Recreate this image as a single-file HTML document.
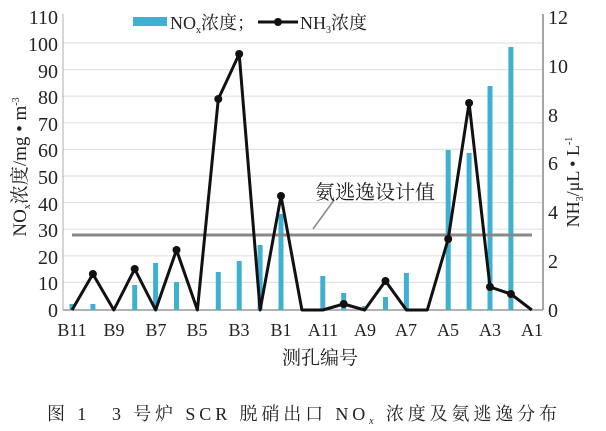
<!DOCTYPE html>
<html><head><meta charset="utf-8"><style>
html,body{margin:0;padding:0;background:#fff;}
svg{display:block;}
text{font-family:"Liberation Serif","Noto Serif CJK SC",serif;fill:#222;}
</style></head><body>
<svg width="606" height="431" viewBox="0 0 606 431" xmlns="http://www.w3.org/2000/svg">
<rect width="606" height="431" fill="#fff"/>
<g stroke="#e2e2e2" stroke-width="1.2">
<line x1="63" x2="543" y1="282.4" y2="282.4"/><line x1="63" x2="543" y1="255.8" y2="255.8"/>
<line x1="63" x2="543" y1="229.2" y2="229.2"/><line x1="63" x2="543" y1="202.6" y2="202.6"/>
<line x1="63" x2="543" y1="176" y2="176"/><line x1="63" x2="543" y1="149.4" y2="149.4"/>
<line x1="63" x2="543" y1="122.8" y2="122.8"/><line x1="63" x2="543" y1="96.2" y2="96.2"/>
<line x1="63" x2="543" y1="69.6" y2="69.6"/><line x1="63" x2="543" y1="43" y2="43"/>
</g>
<line x1="63" y1="14" x2="63" y2="310" stroke="#bbb" stroke-width="1.2"/>
<line x1="543" y1="14" x2="543" y2="310" stroke="#888" stroke-width="1.5"/>
<line x1="63" y1="310" x2="543" y2="310" stroke="#999" stroke-width="1.5"/>
<g fill="#3fb0d2">
<rect x="69.5" y="304" width="5" height="6"/>
<rect x="90.4" y="304" width="5" height="6"/>
<rect x="132.2" y="285" width="5" height="25"/>
<rect x="153.1" y="263" width="5" height="47"/>
<rect x="174" y="282" width="5" height="28"/>
<rect x="215.8" y="272" width="5" height="38"/>
<rect x="236.7" y="261" width="5" height="49"/>
<rect x="257.6" y="245" width="5" height="65"/>
<rect x="278.5" y="214" width="5" height="96"/>
<rect x="320.3" y="276" width="5" height="34"/>
<rect x="341.2" y="293" width="5" height="17"/>
<rect x="362.1" y="306" width="5" height="4"/>
<rect x="383" y="297" width="5" height="13"/>
<rect x="403.9" y="273" width="5" height="37"/>
<rect x="445.7" y="150" width="5" height="160"/>
<rect x="466.6" y="153" width="5" height="157"/>
<rect x="487.5" y="86" width="5" height="224"/>
<rect x="508.4" y="47" width="5" height="263"/>
</g>
<line x1="72" y1="235" x2="532" y2="235" stroke="#888" stroke-width="3"/>
<line x1="313" y1="229" x2="334" y2="200" stroke="#888" stroke-width="1.5"/>
<text x="315" y="199" font-size="20">氨逃逸设计值</text>
<polyline fill="none" stroke="#111" stroke-width="3" stroke-linejoin="round" points="72,310 92.9,274 113.8,310 134.7,269 155.6,310 176.5,250 197.4,310 218.3,99 239.2,54 260.1,310 281,196 301.9,310 322.8,310 343.7,304 364.6,310 385.5,281 406.4,310 427.3,310 448.2,239 469.1,103 490,287 510.9,294 531.8,310"/>
<g fill="#111">
<circle cx="92.9" cy="274" r="4"/><circle cx="134.7" cy="269" r="4"/><circle cx="176.5" cy="250" r="4"/>
<circle cx="218.3" cy="99" r="4"/><circle cx="239.2" cy="54" r="4"/><circle cx="281" cy="196" r="4"/>
<circle cx="343.7" cy="304" r="4"/><circle cx="385.5" cy="281" r="4"/><circle cx="448.2" cy="239" r="4"/>
<circle cx="469.1" cy="103" r="4"/><circle cx="490" cy="287" r="4"/><circle cx="510.9" cy="294" r="4"/>
</g>
<g font-size="20" text-anchor="end">
<text x="58" y="317">0</text><text x="58" y="290">10</text><text x="58" y="264">20</text>
<text x="58" y="237">30</text><text x="58" y="211">40</text><text x="58" y="184">50</text>
<text x="58" y="157">60</text><text x="58" y="131">70</text><text x="58" y="104">80</text>
<text x="58" y="78">90</text><text x="58" y="51">100</text><text x="58" y="24">110</text>
</g>
<g font-size="20">
<text x="548" y="317">0</text><text x="548" y="268">2</text><text x="548" y="219">4</text>
<text x="548" y="170">6</text><text x="548" y="122">8</text><text x="548" y="73">10</text>
<text x="548" y="24">12</text>
</g>
<g font-size="18" text-anchor="middle">
<text x="72" y="336">B11</text><text x="114" y="336">B9</text><text x="156" y="336">B7</text>
<text x="197" y="336">B5</text><text x="239" y="336">B3</text><text x="281" y="336">B1</text>
<text x="323" y="336">A11</text><text x="365" y="336">A9</text><text x="406" y="336">A7</text>
<text x="448" y="336">A5</text><text x="490" y="336">A3</text><text x="532" y="336">A1</text>
</g>
<text x="320" y="364" font-size="19" text-anchor="middle">测孔编号</text>
<text transform="translate(26,167) rotate(-90)" font-size="19" text-anchor="middle">NO<tspan font-size="10" dy="4">x</tspan><tspan dy="-4">浓度/mg • m</tspan><tspan font-size="10" dy="-7">-3</tspan></text>
<text transform="translate(579,182) rotate(-90)" font-size="18" text-anchor="middle">NH<tspan font-size="10" dy="4">3</tspan><tspan dy="-4">/μL • L</tspan><tspan font-size="10" dy="-7">-1</tspan></text>
<rect x="133" y="17" width="34" height="9" fill="#3fb0d2"/>
<text x="170" y="29" font-size="18">NO<tspan font-size="10" dy="4">x</tspan><tspan dy="-4">浓度；</tspan></text>
<line x1="258" y1="22" x2="298" y2="22" stroke="#111" stroke-width="3"/>
<circle cx="278" cy="22" r="4" fill="#111"/>
<text x="300" y="29" font-size="18">NH<tspan font-size="10" dy="4">3</tspan><tspan dy="-4">浓度</tspan></text>
<text x="47" y="420" font-size="18" textLength="510" lengthAdjust="spacing">图 1　3 号炉 SCR 脱硝出口 NO<tspan font-size="10" dy="4" font-style="italic">x</tspan><tspan dy="-4"> 浓度及氨逃逸分布</tspan></text>
</svg>
</body></html>
